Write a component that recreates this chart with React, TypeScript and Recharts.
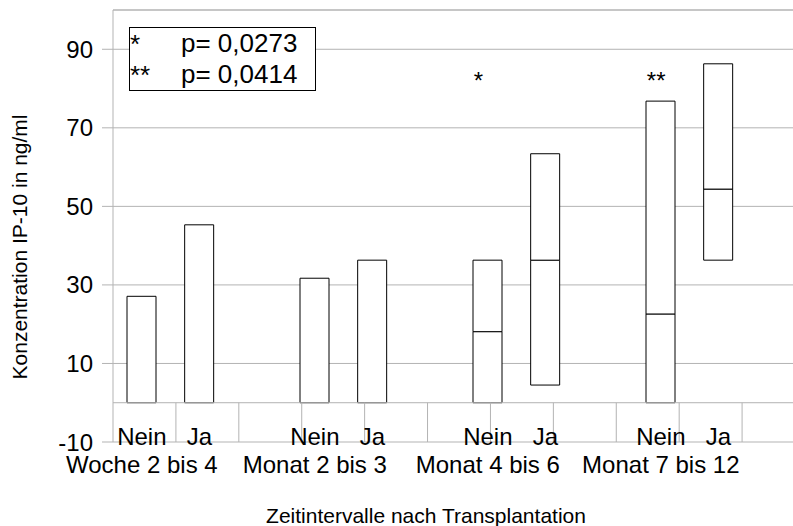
import React from 'react';
import { ComposedChart, Bar, XAxis, YAxis, CartesianGrid, ReferenceLine, ReferenceDot } from 'recharts';

const intervals = ['Woche 2 bis 4', 'Monat 2 bis 3', 'Monat 4 bis 6', 'Monat 7 bis 12'];
const rejection = ['Nein', 'Ja'];

// IP-10 (ng/ml): minimum, median and maximum per box, Nein then Ja for each interval
const boxMin = [0, 0, 0, 0, 0, 4.5, 0, 36.3];
const boxMedian: (number | null)[] = [null, null, null, null, 18.1, 36.3, 22.6, 54.4];
const boxMax = [27.1, 45.3, 31.7, 36.3, 36.3, 63.4, 76.8, 86.3];

const yTicks = [-10, 10, 30, 50, 70, 90];
const yMin = -10;
const yMax = 100;

// significance marks above the Nein boxes
const sigMarks = [
  { interval: 2, text: '*', y: 80 },
  { interval: 3, text: '**', y: 80 },
];
const pValues = [
  { mark: '*', text: 'p= 0,0273' },
  { mark: '**', text: 'p= 0,0414' },
];

const FONT = '"Liberation Sans", Arial, sans-serif';
const GRID = '#b3b3b3';

type Row = {
  key: string;
  group: string;
  sub: string;
  base?: number;
  lower?: number;
  upper?: number | null;
};

const rows: Row[] = [];
intervals.forEach((g, gi) => {
  rejection.forEach((s, si) => {
    const i = gi * 2 + si;
    const med = boxMedian[i];
    rows.push({
      key: `${gi}-${si}`,
      group: si === 0 ? g : '',
      sub: s,
      base: boxMin[i],
      lower: (med ?? boxMax[i]) - boxMin[i],
      upper: med == null ? null : boxMax[i] - med,
    });
  });
  rows.push({ key: `${gi}-gap`, group: '', sub: '' });
});

// boundaries between category slots (drawn below the zero line)
const slotEdges = rows.map((_, i) => i + 1);

const SlotTick = (props: any) => {
  const { x, y, payload } = props;
  const row = rows.find((r) => r.key === payload.value);
  if (!row || !row.sub) return null;
  return (
    <g fontFamily={FONT}>
      <text x={x} y={y + 3} textAnchor="middle" fontSize={24} fill="#000">
        {row.sub}
      </text>
      {row.group && (
        <text x={x} y={y + 31} textAnchor="middle" fontSize={24} fill="#000">
          {row.group}
        </text>
      )}
    </g>
  );
};

const yTitle = (props: any) => {
  const vb = props.viewBox || { y: 10, height: 432 };
  const cx = 27;
  const cy = vb.y + vb.height / 2 + 21;
  return (
    <text
      x={cx}
      y={cy}
      transform={`rotate(-90, ${cx}, ${cy})`}
      textAnchor="middle"
      fontSize={21}
      fontFamily={FONT}
      fill="#000"
    >
      Konzentration IP-10 in ng/ml
    </text>
  );
};

const xTitle = () => (
  <text x={426} y={523} textAnchor="middle" fontSize={21} fontFamily={FONT} fill="#000">
    Zeitintervalle nach Transplantation
  </text>
);

const PValueBox = () => (
  <svg
    width={190}
    height={66}
    style={{ position: 'absolute', left: 128, top: 26 }}
    fontFamily={FONT}
  >
    <rect x={1.5} y={1.5} width={186} height={63} fill="#fff" stroke="#000" strokeWidth={1} />
    {pValues.map((p, i) => (
      <g key={p.mark}>
        <text x={2} y={27 + i * 31} fontSize={26} fill="#000">
          {p.mark}
        </text>
        <text x={53} y={26 + i * 31} fontSize={26} fill="#000">
          {p.text}
        </text>
      </g>
    ))}
  </svg>
);

export default function App() {
  return (
    <div
      style={{
        position: 'fixed',
        left: 0,
        top: 0,
        width: 793,
        height: 526,
        overflow: 'hidden',
        background: '#fff',
      }}
    >
      <ComposedChart
        width={805}
        height={526}
        data={rows}
        margin={{ top: 10, right: 0, bottom: 0, left: 0 }}
        barGap={0}
      >
        <CartesianGrid horizontal vertical={false} stroke={GRID} strokeWidth={1} />
        <XAxis
          dataKey="key"
          interval={0}
          height={84}
          tickSize={0}
          tickMargin={0}
          tickLine={false}
          axisLine={false}
          tick={<SlotTick />}
          label={xTitle}
        />
        <XAxis xAxisId="slots" type="number" domain={[0, rows.length]} allowDataOverflow hide />
        <YAxis
          type="number"
          domain={[yMin, yMax]}
          ticks={yTicks}
          width={113}
          tickSize={11}
          tickMargin={9}
          axisLine={{ stroke: GRID }}
          tickLine={{ stroke: GRID }}
          tick={{ fill: '#000', fontSize: 24, fontFamily: FONT }}
          label={yTitle}
        />
        <ReferenceLine y={yMax} stroke={GRID} />
        <ReferenceLine y={0} stroke={GRID} />
        {slotEdges.map((e) => (
          <ReferenceLine
            key={e}
            xAxisId="slots"
            segment={[
              { x: e, y: yMin },
              { x: e, y: 0 },
            ]}
            stroke={GRID}
          />
        ))}
        <Bar dataKey="base" stackId="box" barSize={29} fill="transparent" stroke="none" isAnimationActive={false} />
        <Bar dataKey="lower" stackId="box" barSize={29} fill="#fff" stroke="#000" strokeWidth={1} isAnimationActive={false} />
        <Bar dataKey="upper" stackId="box" barSize={29} fill="#fff" stroke="#000" strokeWidth={1} isAnimationActive={false} />
        {sigMarks.map((m) => (
          <ReferenceDot
            key={m.text}
            x={`${m.interval}-0`}
            y={m.y}
            r={0}
            shape={(p: any) => (
              <text x={p.cx - 14} y={p.cy} fontSize={24} fontFamily={FONT} fill="#000">
                {m.text}
              </text>
            )}
          />
        ))}
      </ComposedChart>
      <PValueBox />
    </div>
  );
}
